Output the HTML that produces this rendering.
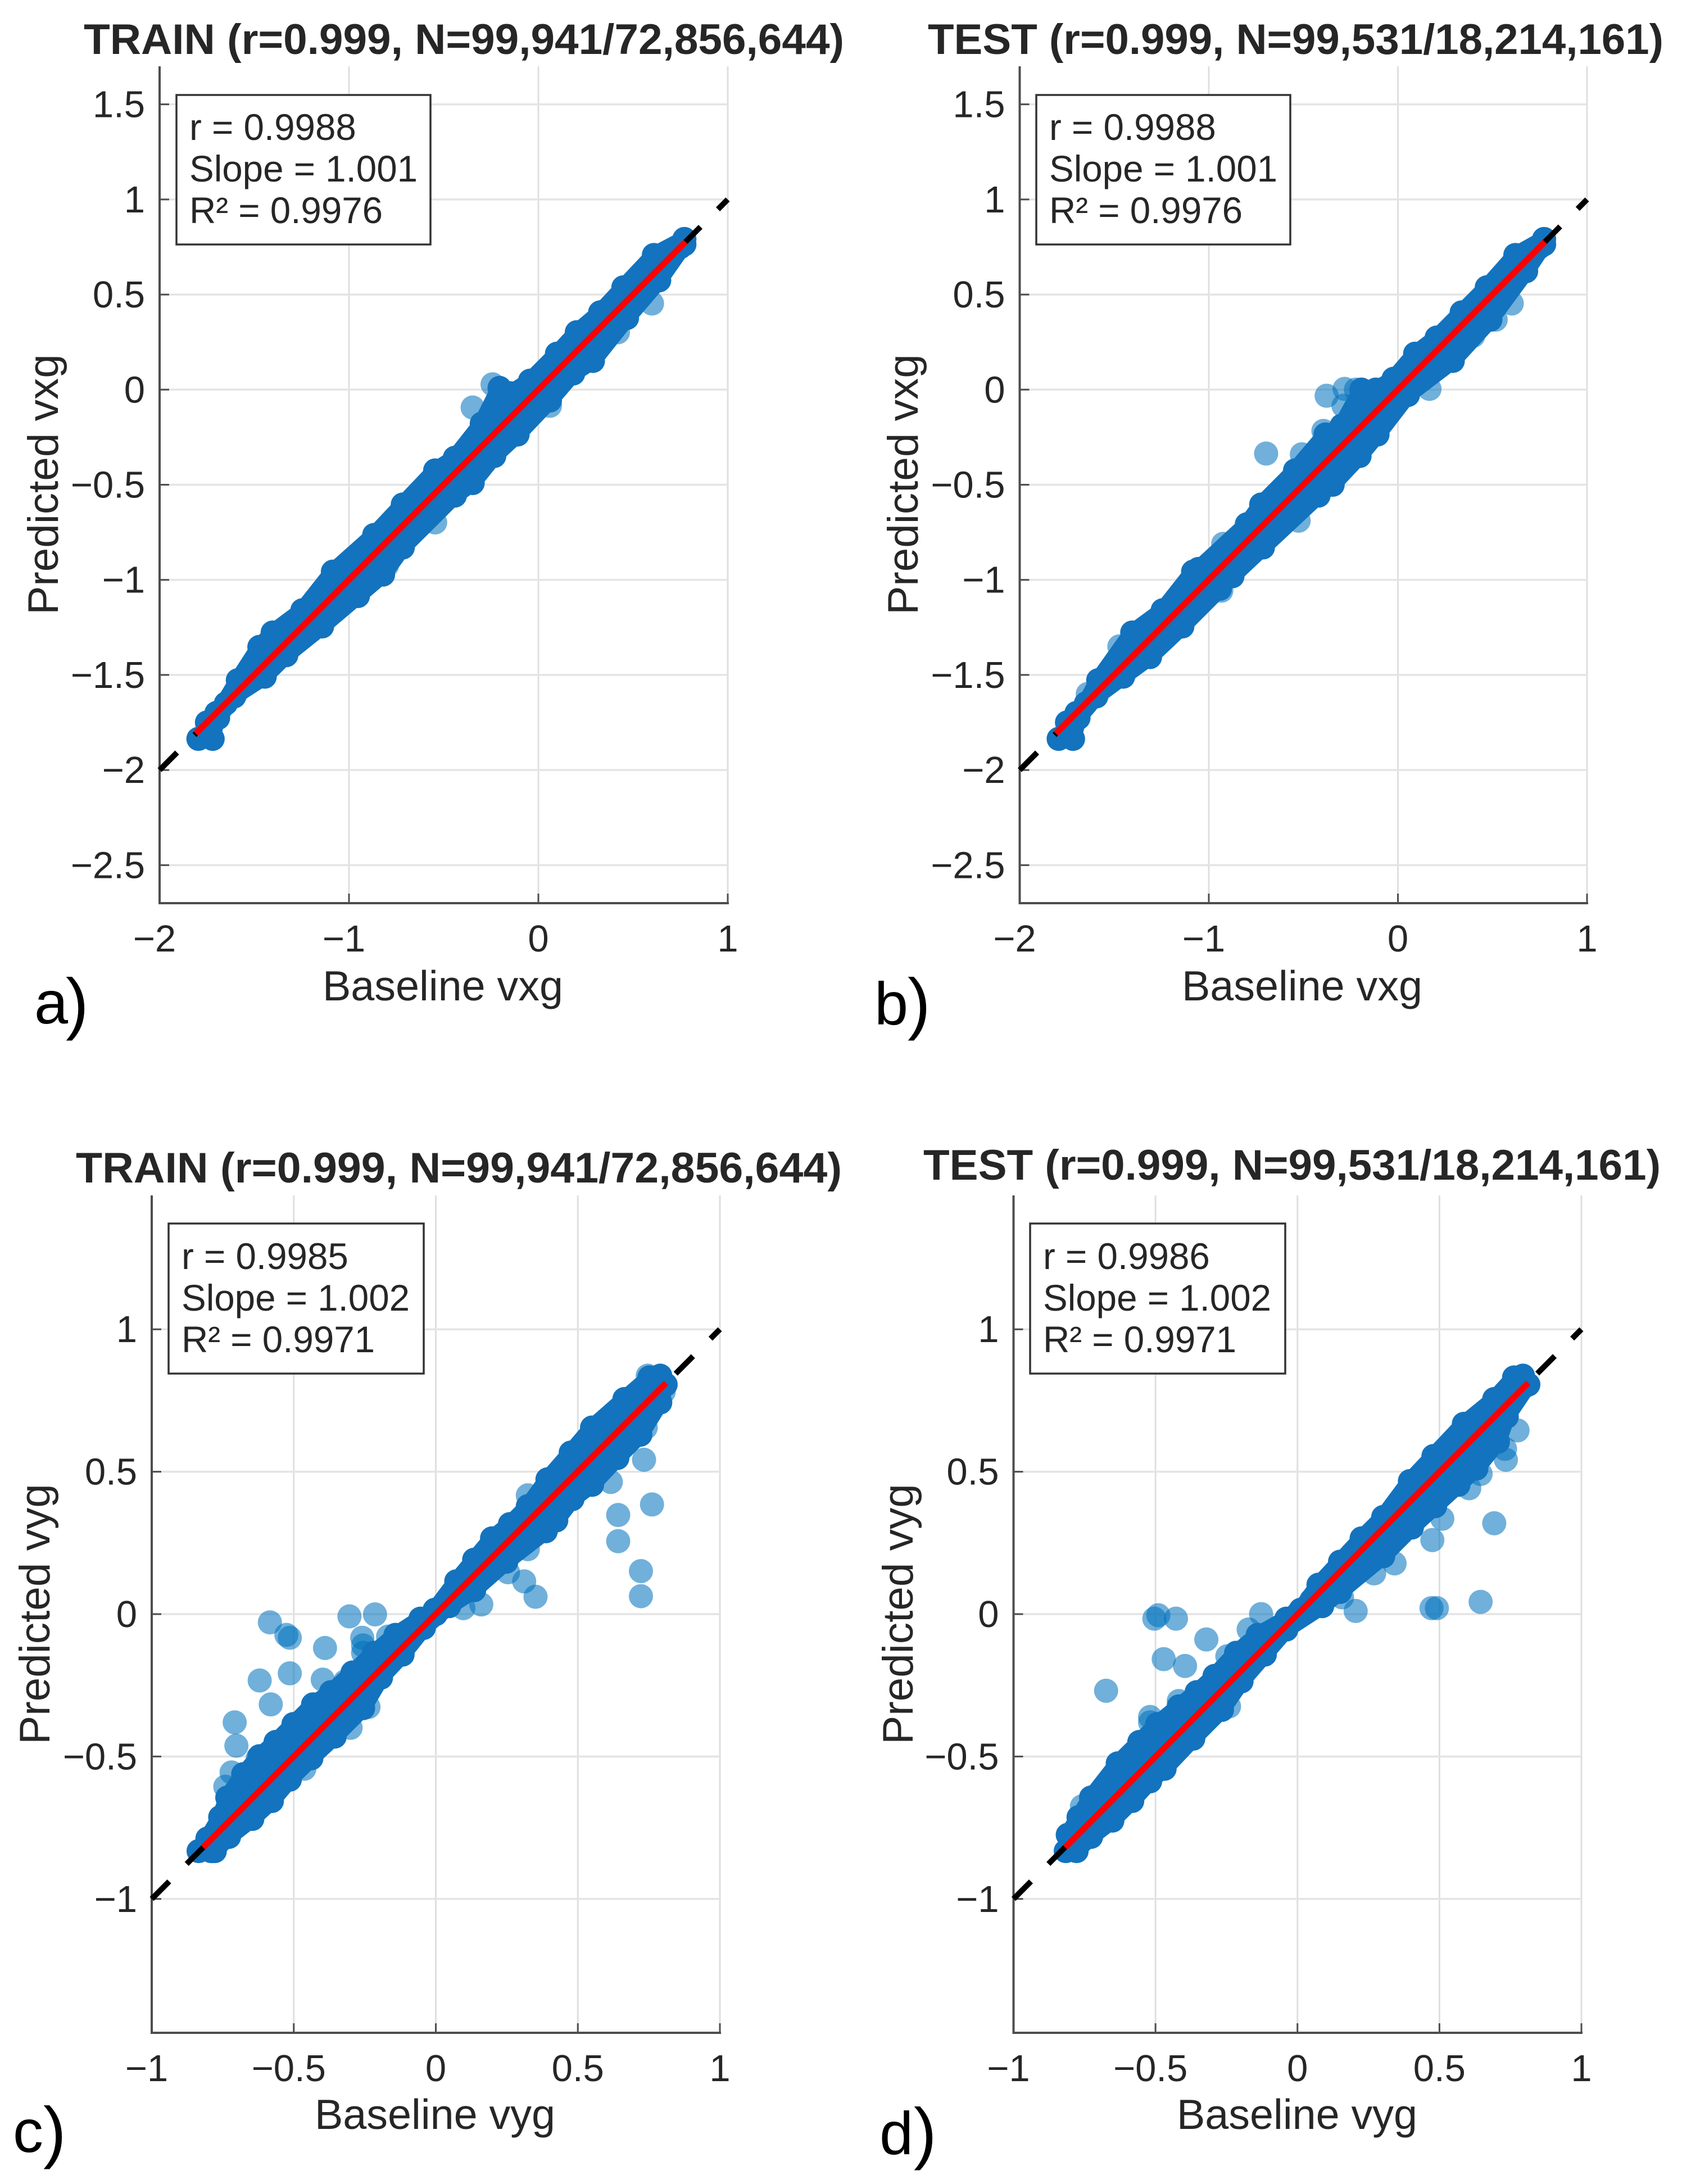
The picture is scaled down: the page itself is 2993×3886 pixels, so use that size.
<!DOCTYPE html>
<html lang="en">
<head>
<meta charset="utf-8">
<title>Baseline vs predicted velocity parity plots</title>
<style>
  html, body { margin: 0; padding: 0; background: #ffffff; }
  svg { display: block; }
  text { font-family: "Liberation Sans", sans-serif; fill: #262626; }
  .title { font-size: 76px; font-weight: 700; }
  .axis-label { font-size: 75.5px; }
  .axis-label-y { font-size: 76.5px; }
  .stat { font-size: 65.5px; }
  .panel-letter { font-size: 108px; fill: #000; }
  .panel-paren { font-size: 122px; fill: #000; }
  .tick-label { font-size: 67px; }
  .stats-box { fill: #fff; stroke: #333; stroke-width: 3.5; }
</style>
</head>
<body>
<svg id="figure" xmlns="http://www.w3.org/2000/svg" width="2993" height="3886" viewBox="0 0 2993 3886">
  <rect x="0" y="0" width="2993" height="3886" fill="#ffffff"/>

  <!-- Panel a -->
  <g id="plot-a"></g>
  <text class="title" x="149" y="96" textLength="1353" lengthAdjust="spacingAndGlyphs">TRAIN (r=0.999, N=99,941/72,856,644)</text>
  <text class="axis-label" x="788" y="1780" text-anchor="middle">Baseline vxg</text>
  <text class="axis-label-y" transform="translate(103 862) rotate(-90)" text-anchor="middle">Predicted vxg</text>
  <g>
    <rect class="stats-box" x="314" y="169" width="452" height="266"/>
    <text class="stat" x="337" y="249">r = 0.9988</text>
    <text class="stat" x="337" y="323">Slope = 1.001</text>
    <text class="stat" x="337" y="397">R² = 0.9976</text>
  </g>
  <text class="panel-letter" x="61" y="1821">a</text>
  <text class="panel-paren" x="117" y="1826">)</text>

  <!-- Panel b -->
  <g id="plot-b"></g>
  <text class="title" x="1651" y="96" textLength="1309" lengthAdjust="spacingAndGlyphs">TEST (r=0.999, N=99,531/18,214,161)</text>
  <text class="axis-label" x="2317" y="1780" text-anchor="middle">Baseline vxg</text>
  <text class="axis-label-y" transform="translate(1633 862) rotate(-90)" text-anchor="middle">Predicted vxg</text>
  <g>
    <rect class="stats-box" x="1844" y="169" width="452" height="266"/>
    <text class="stat" x="1867" y="249">r = 0.9988</text>
    <text class="stat" x="1867" y="323">Slope = 1.001</text>
    <text class="stat" x="1867" y="397">R² = 0.9976</text>
  </g>
  <text class="panel-letter" x="1556" y="1823">b</text>
  <text class="panel-paren" x="1615" y="1826">)</text>

  <!-- Panel c -->
  <g id="plot-c"></g>
  <text class="title" x="135" y="2104" textLength="1363" lengthAdjust="spacingAndGlyphs">TRAIN (r=0.999, N=99,941/72,856,644)</text>
  <text class="axis-label" x="774" y="3788" text-anchor="middle">Baseline vyg</text>
  <text class="axis-label-y" transform="translate(88 2872) rotate(-90)" text-anchor="middle">Predicted vyg</text>
  <g>
    <rect class="stats-box" x="300" y="2177" width="454" height="267"/>
    <text class="stat" x="323" y="2258">r = 0.9985</text>
    <text class="stat" x="323" y="2332">Slope = 1.002</text>
    <text class="stat" x="323" y="2406">R² = 0.9971</text>
  </g>
  <text class="panel-letter" x="23" y="3829">c</text>
  <text class="panel-paren" x="77" y="3834">)</text>

  <!-- Panel d -->
  <g id="plot-d"></g>
  <text class="title" x="1643" y="2099" textLength="1312" lengthAdjust="spacingAndGlyphs">TEST (r=0.999, N=99,531/18,214,161)</text>
  <text class="axis-label" x="2308" y="3788" text-anchor="middle">Baseline vyg</text>
  <text class="axis-label-y" transform="translate(1624 2872) rotate(-90)" text-anchor="middle">Predicted vyg</text>
  <g>
    <rect class="stats-box" x="1833" y="2177" width="454" height="267"/>
    <text class="stat" x="1856" y="2258">r = 0.9986</text>
    <text class="stat" x="1856" y="2332">Slope = 1.002</text>
    <text class="stat" x="1856" y="2406">R² = 0.9971</text>
  </g>
  <text class="panel-letter" x="1565" y="3833">d</text>
  <text class="panel-paren" x="1626" y="3836">)</text>
</svg>

<script>
// ---- Tick values and labels ----
const vxgXTicks = [-2, -1, 0, 1];
const vxgXTickLabels = ['\u22122', '\u22121', '0', '1'];
const vxgYTicks = [-2.5, -2, -1.5, -1, -0.5, 0, 0.5, 1, 1.5];
const vxgYTickLabels = ['\u22122.5', '\u22122', '\u22121.5', '\u22121', '\u22120.5', '0', '0.5', '1', '1.5'];
const vygXTicks = [-1, -0.5, 0, 0.5, 1];
const vygXTickLabels = ['\u22121', '\u22120.5', '0', '0.5', '1'];
const vygYTicks = [-1, -0.5, 0, 0.5, 1];
const vygYTickLabels = ['\u22121', '\u22120.5', '0', '0.5', '1'];

// ---- Identity reference line ----
const vxgIdentity = [-2, 1];
const vygIdentity = [-1, 1];

// ---- Dense ridge of points along the diagonal ----
const vxgRidge = [-1.75,-1.7,-1.65,-1.6,-1.55,-1.5,-1.45,-1.4,-1.35,-1.3,-1.25,-1.2,-1.15,-1.1,-1.05,-1,-0.95,-0.9,-0.85,-0.8,-0.75,-0.7,-0.65,-0.6,-0.55,-0.5,-0.45,-0.4,-0.35,-0.3,-0.25,-0.2,-0.15,-0.1,-0.05,0,0.05,0.1,0.15,0.2,0.25,0.3,0.35,0.4,0.45,0.5,0.55,0.6,0.65,0.7,0.75];
const vygRidge = [-0.8,-0.75,-0.7,-0.65,-0.6,-0.55,-0.5,-0.45,-0.4,-0.35,-0.3,-0.25,-0.2,-0.15,-0.1,-0.05,0,0.05,0.1,0.15,0.2,0.25,0.3,0.35,0.4,0.45,0.5,0.55,0.6,0.65,0.7,0.75,0.8];

// ---- Panel a: TRAIN vxg (upper edge of the cloud, then lower edge) ----
const trainVxgUpperX = [-1.795,-1.72,-1.7,-1.587,-1.473,-1.403,-1.246,-1.085,-0.867,-0.716,-0.545,-0.441,-0.299,-0.205,-0.148,-0.044,0.098,0.203,0.326,0.449,0.61,0.771];
const trainVxgUpperY = [-1.836,-1.836,-1.717,-1.528,-1.353,-1.277,-1.16,-0.957,-0.764,-0.604,-0.425,-0.358,-0.179,0.009,-0.019,0.047,0.189,0.302,0.406,0.538,0.708,0.792];
const trainVxgLowerX = [-1.691,-1.606,-1.445,-1.331,-1.142,-0.953,-0.82,-0.716,-0.441,-0.347,-0.233,-0.11,0.061,0.184,0.288,0.468,0.638,0.771];
const trainVxgLowerY = [-1.726,-1.613,-1.509,-1.396,-1.245,-1.085,-0.972,-0.83,-0.557,-0.491,-0.349,-0.236,-0.057,0.085,0.151,0.377,0.575,0.764];
const trainVxgSparseX = [-0.347,-0.545,0.6,-0.8,0.42,0.061,-0.242,-1.473,0.34];
const trainVxgSparseY = [-0.094,-0.698,0.453,-0.925,0.302,-0.085,0.028,-1.353,0.41];
const trainVxgFitX = [-1.809, 0.777];
const trainVxgFitY = [-1.808, 0.777];

// ---- Panel b: TEST vxg ----
const testVxgUpperX = [-1.794,-1.718,-1.689,-1.585,-1.405,-1.244,-1.083,-1.055,-0.799,-0.723,-0.544,-0.383,-0.297,-0.193,-0.117,-0.023,0.091,0.205,0.337,0.47,0.621,0.773];
const testVxgUpperY = [-1.836,-1.836,-1.717,-1.528,-1.277,-1.16,-0.957,-0.943,-0.708,-0.604,-0.425,-0.236,-0.189,0,0,0.057,0.189,0.274,0.406,0.538,0.708,0.792];
const testVxgLowerX = [-1.689,-1.595,-1.453,-1.311,-1.14,-0.941,-0.875,-0.714,-0.42,-0.345,-0.203,-0.108,0.053,0.29,0.489,0.678,0.773];
const testVxgLowerY = [-1.726,-1.613,-1.509,-1.406,-1.245,-1.047,-0.981,-0.83,-0.557,-0.5,-0.349,-0.236,-0.028,0.151,0.368,0.623,0.764];
const testVxgSparseX = [-0.377,-0.282,-0.222,-0.697,-0.508,-0.394,0.167,0.398,0.517,0.602,-0.525,-0.924,-0.934,-0.288,-1.473,-1.64];
const testVxgSparseY = [-0.032,0.004,0,-0.336,-0.34,-0.217,0.004,0.283,0.368,0.453,-0.689,-0.811,-1.057,-0.085,-1.35,-1.6];
const testVxgFitX = [-1.809, 0.777];
const testVxgFitY = [-1.808, 0.777];

// ---- Panel c: TRAIN vyg ----
const trainVygUpperX = [-0.835,-0.791,-0.804,-0.759,-0.734,-0.678,-0.621,-0.564,-0.501,-0.432,-0.369,-0.293,-0.218,-0.142,-0.054,-0.004,0.072,0.135,0.198,0.261,0.324,0.393,0.475,0.55,0.664,0.752,0.79];
const trainVygUpperY = [-0.832,-0.832,-0.788,-0.713,-0.644,-0.562,-0.499,-0.449,-0.386,-0.317,-0.274,-0.205,-0.136,-0.073,-0.016,0.015,0.115,0.191,0.266,0.316,0.379,0.473,0.567,0.655,0.755,0.831,0.837];
const trainVygLowerX = [-0.778,-0.728,-0.646,-0.577,-0.514,-0.438,-0.356,-0.256,-0.193,-0.117,-0.042,0.047,0.135,0.248,0.387,0.424,0.481,0.55,0.639,0.72,0.79,0.809];
const trainVygLowerY = [-0.832,-0.782,-0.719,-0.656,-0.581,-0.506,-0.43,-0.33,-0.223,-0.142,-0.048,0.028,0.084,0.184,0.291,0.329,0.404,0.454,0.548,0.63,0.743,0.806];
const trainVygSparseX = [-0.584,-0.526,-0.514,-0.39,-0.304,-0.214,-0.259,-0.256,-0.256,-0.168,-0.62,-0.514,-0.398,-0.581,-0.708,-0.702,-0.719,-0.741,-0.627,-0.432,-0.319,0.761,0.642,0.642,0.722,0.722,0.733,0.616,0.311,0.351,0.254,0.16,0.097,0.324,-0.237,-0.3,-0.463,0.739,0.802,0.746,0.324];
const trainVygSparseY = [-0.029,-0.073,-0.083,-0.119,-0.008,-0.001,-0.083,-0.11,-0.136,-0.079,-0.233,-0.208,-0.23,-0.317,-0.38,-0.462,-0.556,-0.606,-0.506,-0.324,-0.236,0.385,0.348,0.256,0.151,0.063,0.542,0.464,0.115,0.061,0.147,0.034,0.021,0.228,-0.326,-0.399,-0.543,0.655,0.78,0.837,0.417];
const trainVygFitX = [-0.819, 0.811];
const trainVygFitY = [-0.819, 0.812];

// ---- Panel d: TEST vyg ----
const testVygUpperX = [-0.816,-0.809,-0.771,-0.727,-0.633,-0.557,-0.494,-0.418,-0.355,-0.292,-0.216,-0.14,-0.039,0.011,0.074,0.15,0.226,0.302,0.396,0.479,0.586,0.693,0.763,0.794];
const testVygUpperY = [-0.832,-0.775,-0.713,-0.644,-0.524,-0.449,-0.386,-0.324,-0.274,-0.217,-0.136,-0.073,-0.016,0.015,0.103,0.184,0.266,0.341,0.467,0.555,0.668,0.755,0.831,0.837];
const testVygLowerX = [-0.778,-0.727,-0.652,-0.582,-0.519,-0.468,-0.367,-0.266,-0.197,-0.115,-0.039,0.087,0.15,0.302,0.403,0.485,0.567,0.63,0.706,0.737,0.813];
const testVygLowerY = [-0.832,-0.782,-0.725,-0.656,-0.587,-0.543,-0.437,-0.336,-0.236,-0.142,-0.054,0.028,0.078,0.203,0.304,0.379,0.454,0.511,0.605,0.693,0.806];
const testVygSparseX = [-0.504,-0.49,-0.428,-0.321,-0.471,-0.396,-0.674,-0.247,-0.128,-0.172,-0.519,-0.519,-0.418,-0.759,0.205,0.472,0.491,0.645,0.693,0.475,0.51,0.342,0.27,0.157,0.734,0.775,0.731,0.645,0.605,-0.241];
const testVygSparseY = [-0.016,-0.004,-0.016,-0.089,-0.158,-0.182,-0.269,-0.148,0,-0.054,-0.361,-0.38,-0.305,-0.675,0.011,0.021,0.021,0.043,0.319,0.26,0.335,0.178,0.143,0.059,0.542,0.645,0.58,0.492,0.442,-0.324];
const testVygFitX = [-0.818, 0.813];
const testVygFitY = [-0.819, 0.812];

const SVG_NS = 'http://www.w3.org/2000/svg';

function make(parent, tag, props) {
  const node = document.createElementNS(SVG_NS, tag);
  for (const key in props) node.setAttribute(key, props[key]);
  parent.appendChild(node);
  return node;
}

function drawPanel(cfg) {
  const root = document.getElementById(cfg.id);
  const sx = v => cfg.left + (v - cfg.xMin) / (cfg.xMax - cfg.xMin) * (cfg.right - cfg.left);
  const sy = v => cfg.bottom - (v - cfg.yMin) / (cfg.yMax - cfg.yMin) * (cfg.bottom - cfg.top);

  // Grid
  cfg.xTicks.forEach(v => {
    const el = make(root, 'line', { x1: sx(v), x2: sx(v), y1: cfg.top, y2: cfg.bottom, stroke: '#dfdfdf', 'stroke-width': 3 });
    
    
  });
  cfg.yTicks.forEach(v => {
    const el = make(root, 'line', { x1: cfg.left, x2: cfg.right, y1: sy(v), y2: sy(v), stroke: '#e4e4e4', 'stroke-width': 3.5 });
    
    
  });

  // Sparse (translucent) points
  cfg.sparseX.forEach((v, i) => {
    const el = make(root, 'circle', { cx: sx(v), cy: sy(cfg.sparseY[i]), r: 21.5, fill: '#0072BD', 'fill-opacity': 0.56 });
    
    
  });

  // Saturated interior of the point cloud, spanned by the upper and lower edge points
  const outline = [];
  cfg.upperX.forEach((v, i) => outline.push(sx(v) + ',' + sy(cfg.upperY[i])));
  for (let i = cfg.lowerX.length - 1; i >= 0; i--) outline.push(sx(cfg.lowerX[i]) + ',' + sy(cfg.lowerY[i]));
  const cloud = make(root, 'polygon', { points: outline.join(' '), fill: '#1373be', stroke: '#1373be', 'stroke-width': 30, 'stroke-linejoin': 'round' });
  
  

  // Edge points of the cloud
  cfg.upperX.forEach((v, i) => {
    const el = make(root, 'circle', { cx: sx(v), cy: sy(cfg.upperY[i]), r: 21.5, fill: '#1373be' });
    
    
  });
  cfg.lowerX.forEach((v, i) => {
    const el = make(root, 'circle', { cx: sx(v), cy: sy(cfg.lowerY[i]), r: 21.5, fill: '#1373be' });
    
    
  });
  cfg.ridge.forEach(v => {
    const el = make(root, 'circle', { cx: sx(v), cy: sy(v), r: 21.5, fill: '#1373be' });
    
    
  });

  // Axes
  const yAxis = make(root, 'line', { x1: cfg.left, x2: cfg.left, y1: cfg.top, y2: cfg.bottom + 2, stroke: '#4d4d4d', 'stroke-width': 4 });
  
  
  const xAxis = make(root, 'line', { x1: cfg.left - 2, x2: cfg.right + 2, y1: cfg.bottom, y2: cfg.bottom, stroke: '#4d4d4d', 'stroke-width': 4 });
  
  

  // Ticks and labels
  cfg.xTicks.forEach((v, i) => {
    const tick = make(root, 'line', { x1: sx(v), x2: sx(v), y1: cfg.bottom, y2: cfg.bottom - 17, stroke: '#4d4d4d', 'stroke-width': 3 });
    
    
    const label = make(root, 'text', { x: sx(v) - (v < 0 ? 9 : 0), y: cfg.bottom + 86, 'text-anchor': 'middle', class: 'tick-label' });
    label.textContent = cfg.xTickLabels[i];
    
    
  });
  cfg.yTicks.forEach((v, i) => {
    const tick = make(root, 'line', { x1: cfg.left, x2: cfg.left + 17, y1: sy(v), y2: sy(v), stroke: '#4d4d4d', 'stroke-width': 3 });
    
    
    const label = make(root, 'text', { x: cfg.left - 26, y: sy(v) + 23, 'text-anchor': 'end', class: 'tick-label' });
    label.textContent = cfg.yTickLabels[i];
    
    
  });

  // Identity line
  const identity = make(root, 'line', {
    x1: sx(cfg.identity[0]), y1: sy(cfg.identity[0]), x2: sx(cfg.identity[1]), y2: sy(cfg.identity[1]),
    stroke: '#000', 'stroke-width': 10, 'stroke-dasharray': '44 44'
  });
  
  

  // Regression fit
  const fit = make(root, 'line', {
    x1: sx(cfg.fitX[0]), y1: sy(cfg.fitY[0]), x2: sx(cfg.fitX[1]), y2: sy(cfg.fitY[1]),
    stroke: '#ff0000', 'stroke-width': 11
  });
  
  
}

drawPanel({
  id: 'plot-a', left: 284, right: 1295, top: 118, bottom: 1607,
  xMin: -2, xMax: 1, yMin: -2.7, yMax: 1.7,
  xTicks: vxgXTicks, xTickLabels: vxgXTickLabels, yTicks: vxgYTicks, yTickLabels: vxgYTickLabels,
  identity: vxgIdentity, ridge: vxgRidge,
  upperX: trainVxgUpperX, upperY: trainVxgUpperY, lowerX: trainVxgLowerX, lowerY: trainVxgLowerY,
  sparseX: trainVxgSparseX, sparseY: trainVxgSparseY,
  fitX: trainVxgFitX, fitY: trainVxgFitY
});
drawPanel({
  id: 'plot-b', left: 1814.5, right: 2824, top: 118, bottom: 1607,
  xMin: -2, xMax: 1, yMin: -2.7, yMax: 1.7,
  xTicks: vxgXTicks, xTickLabels: vxgXTickLabels, yTicks: vxgYTicks, yTickLabels: vxgYTickLabels,
  identity: vxgIdentity, ridge: vxgRidge,
  upperX: testVxgUpperX, upperY: testVxgUpperY, lowerX: testVxgLowerX, lowerY: testVxgLowerY,
  sparseX: testVxgSparseX, sparseY: testVxgSparseY,
  fitX: testVxgFitX, fitY: testVxgFitY
});
drawPanel({
  id: 'plot-c', left: 270, right: 1281, top: 2127, bottom: 3617,
  xMin: -1, xMax: 1, yMin: -1.47, yMax: 1.47,
  xTicks: vygXTicks, xTickLabels: vygXTickLabels, yTicks: vygYTicks, yTickLabels: vygYTickLabels,
  identity: vygIdentity, ridge: vygRidge,
  upperX: trainVygUpperX, upperY: trainVygUpperY, lowerX: trainVygLowerX, lowerY: trainVygLowerY,
  sparseX: trainVygSparseX, sparseY: trainVygSparseY,
  fitX: trainVygFitX, fitY: trainVygFitY
});
drawPanel({
  id: 'plot-d', left: 1803.5, right: 2814, top: 2127, bottom: 3617,
  xMin: -1, xMax: 1, yMin: -1.47, yMax: 1.47,
  xTicks: vygXTicks, xTickLabels: vygXTickLabels, yTicks: vygYTicks, yTickLabels: vygYTickLabels,
  identity: vygIdentity, ridge: vygRidge,
  upperX: testVygUpperX, upperY: testVygUpperY, lowerX: testVygLowerX, lowerY: testVygLowerY,
  sparseX: testVygSparseX, sparseY: testVygSparseY,
  fitX: testVygFitX, fitY: testVygFitY
});
</script>
</body>
</html>
